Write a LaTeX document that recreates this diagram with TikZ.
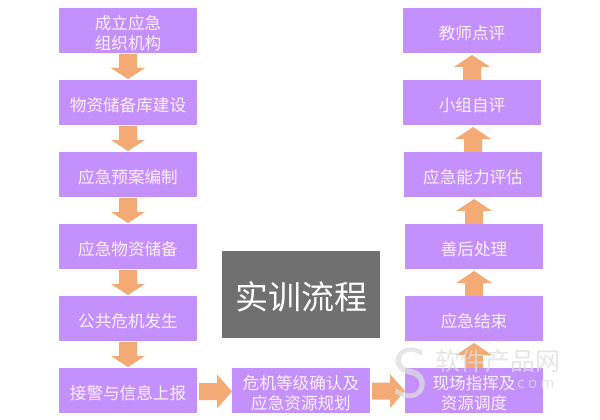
\documentclass[tikz,border=0pt]{standalone}
\usepackage{fontspec}
\usetikzlibrary{calc}
\setmainfont{Noto Sans CJK SC}
\definecolor{boxc}{HTML}{C490FC}
\definecolor{arrc}{HTML}{F4AA74}
\definecolor{grayc}{HTML}{707070}
\definecolor{wmc}{HTML}{DEDEDE}
\definecolor{txtc}{HTML}{FBF0FF}
\tikzset{x=1pt,y=-1pt,
  stepbox/.style={fill=boxc,minimum width=138pt,minimum height=45pt,inner sep=0pt,text=txtc,font=\fontsize{16.6}{20}\selectfont},
  wmark/.style={text=wmc,text opacity=.75,inner sep=0pt}
}
\newcommand{\oneL}[1]{\raisebox{-8.7pt}[0pt][0pt]{#1}}
\newcommand{\twoL}[2]{\makebox[0pt]{\raisebox{1.3pt}[0pt][0pt]{#1}}\makebox[0pt]{\raisebox{-18.7pt}[0pt][0pt]{#2}}}
\newcommand{\arrD}[1]{\fill[arrc] ($(#1)+(-9,0)$) -- ++(18,0) -- ++(0,14) -- ++(8,0) -- ++(-17,11) -- ++(-17,-11) -- ++(8,0) -- cycle;}
\newcommand{\arrU}[1]{\fill[arrc] ($(#1)+(-9,0)$) -- ++(18,0) -- ++(0,-13) -- ++(9,0) -- ++(-18,-12) -- ++(-18,12) -- ++(9,0) -- cycle;}
\newcommand{\arrR}[1]{\fill[arrc] ($(#1)+(0,-8.5)$) -- ++(18,0) -- ++(0,-8.5) -- ++(15,17) -- ++(-15,17) -- ++(0,-8.5) -- ++(-18,0) -- cycle;}
\begin{document}
\begin{tikzpicture}
\useasboundingbox (0,0) rectangle (600,420);
\fill[white] (0,0) rectangle (600,420);
\coordinate (d1) at (128,54);
\coordinate (d2) at (128,126);
\coordinate (d3) at (128,198);
\coordinate (d4) at (128,270);
\coordinate (d5) at (128,342);
\arrD{d1}\arrD{d2}\arrD{d3}\arrD{d4}\arrD{d5}
\coordinate (r1) at (199,391.5);
\coordinate (r2) at (372,391);
\arrR{r1}\arrR{r2}
\coordinate (u1) at (474,368);
\coordinate (u2) at (474,296);
\coordinate (u3) at (474,224);
\coordinate (u4) at (473,152);
\coordinate (u5) at (472,80);
\arrU{u1}\arrU{u2}\arrU{u3}\arrU{u4}\arrU{u5}
\node[stepbox] (a1) at (128,30.5) {\twoL{成立应急}{组织机构}};
\node[stepbox] (a2) at (128,102.5) {\oneL{物资储备库建设}};
\node[stepbox] (a3) at (128,174.5) {\oneL{应急预案编制}};
\node[stepbox] (a4) at (128,246.5) {\oneL{应急物资储备}};
\node[stepbox] (a5) at (128,318.5) {\oneL{公共危机发生}};
\node[stepbox] (a6) at (128,390.5) {\oneL{接警与信息上报}};
\node[stepbox] (b1) at (301,390.5) {\twoL{危机等级确认及}{应急资源规划}};
\node[stepbox] (c1) at (474,390.5) {\twoL{现场指挥及}{资源调度}};
\node[stepbox] (c2) at (474,318.5) {\oneL{应急结束}};
\node[stepbox] (c3) at (474,246.5) {\oneL{善后处理}};
\node[stepbox] (c4) at (473,174.5) {\oneL{应急能力评估}};
\node[stepbox] (c5) at (472,102.5) {\oneL{小组自评}};
\node[stepbox] (c6) at (472,30.5) {\oneL{教师点评}};
\node[fill=grayc,minimum width=158pt,minimum height=87pt,inner sep=0pt,text=white,font=\fontsize{33}{36}\selectfont] (g) at (301,294.5) {\raisebox{-15pt}[0pt][0pt]{实训流程}};
% watermark over the picture
\node[wmark,font=\sffamily\fontsize{70}{70}\selectfont] (wms) at (411,373) {S};
\node[wmark,font=\fontsize{25}{25}\selectfont,anchor=west] (wmt) at (435,361) {软件产品网};
\node[wmark,font=\fontsize{15}{15}\selectfont,anchor=west] (wmd) at (517,384) {c o m};
\end{tikzpicture}
\end{document}
